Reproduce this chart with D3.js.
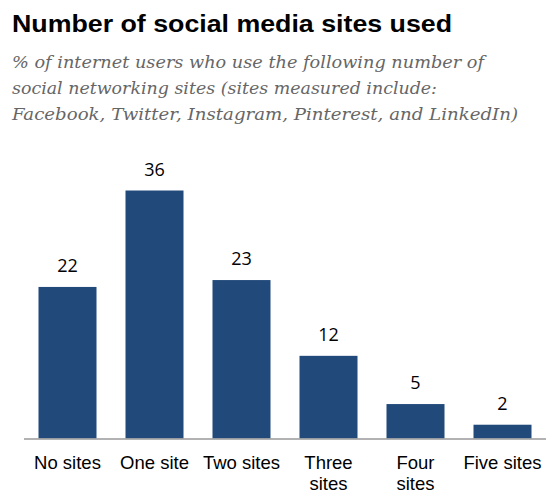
<!DOCTYPE html>
<html><head><meta charset="utf-8">
<script src="https://cdn.jsdelivr.net/npm/d3@7"></script>
<style>body{margin:0;background:#fff}</style>
</head><body>
<script>
const categories = [["No sites"], ["One site"], ["Two sites"], ["Three", "sites"], ["Four", "sites"], ["Five sites"]];
const values = [22, 36, 23, 12, 5, 2];
const titleText = "Number of social media sites used";
const subtitleLines = [
  "% of internet users who use the following number of",
  "social networking sites (sites measured include:",
  "Facebook, Twitter, Instagram, Pinterest, and LinkedIn)"
];

const W = 548, H = 493;
const svg = d3.select("body").append("svg").attr("width", W).attr("height", H);

svg.append("text").attr("x", 12).attr("y", 32)
  .attr("font-family", "Liberation Sans, Arial, sans-serif").attr("font-weight", "bold")
  .attr("font-size", 23.5).attr("fill", "#000")
  .attr("textLength", 440).attr("lengthAdjust", "spacingAndGlyphs")
  .text(titleText);

const subW = [472, 425, 506];
subtitleLines.forEach((t, i) => {
  svg.append("text").attr("x", 12).attr("y", 68 + i * 26)
    .attr("font-family", "DejaVu Serif, Georgia, serif").attr("font-style", "italic")
    .attr("font-size", 16.5).attr("fill", "#666")
    .attr("textLength", subW[i]).attr("lengthAdjust", "spacingAndGlyphs")
    .text(t);
});

const keys = categories.map(c => c.join(" "));
const x = d3.scaleBand().domain(keys).range([24, 546]).paddingInner(1/3).paddingOuter(1/6);
const y = d3.scaleLinear().domain([0, 36]).range([438.5, 190.5]);

svg.selectAll("rect.bar").data(values).join("rect").attr("class", "bar")
  .attr("x", (d, i) => x(keys[i])).attr("width", x.bandwidth())
  .attr("y", d => y(d)).attr("height", d => y(0) - y(d))
  .attr("fill", "#214a7b");

svg.selectAll("text.val").data(values).join("text").attr("class", "val")
  .attr("x", (d, i) => x(keys[i]) + x.bandwidth() / 2)
  .attr("y", d => y(d) - 15)
  .attr("text-anchor", "middle")
  .attr("font-family", "Open Sans, Noto Sans, sans-serif").attr("font-size", 18).attr("fill", "#000")
  .text(d => d);

const xAxis = d3.axisBottom(x).tickSize(0).tickFormat("");
const ax = svg.append("g").attr("transform", `translate(0,${y(0) + 0.5})`).call(xAxis);
ax.select(".domain").attr("stroke", "#999").attr("stroke-width", 1.5).attr("d", "M24,0H546");

categories.forEach((c, i) => {
  const t = svg.append("text").attr("x", x(keys[i]) + x.bandwidth() / 2).attr("y", 469)
    .attr("text-anchor", "middle")
    .attr("font-family", "Liberation Sans, Arial, sans-serif").attr("font-size", 18.5).attr("fill", "#000");
  c.forEach((line, j) => {
    t.append("tspan").attr("x", x(keys[i]) + x.bandwidth() / 2).attr("dy", j === 0 ? 0 : 21).text(line);
  });
});
</script>
</body></html>
